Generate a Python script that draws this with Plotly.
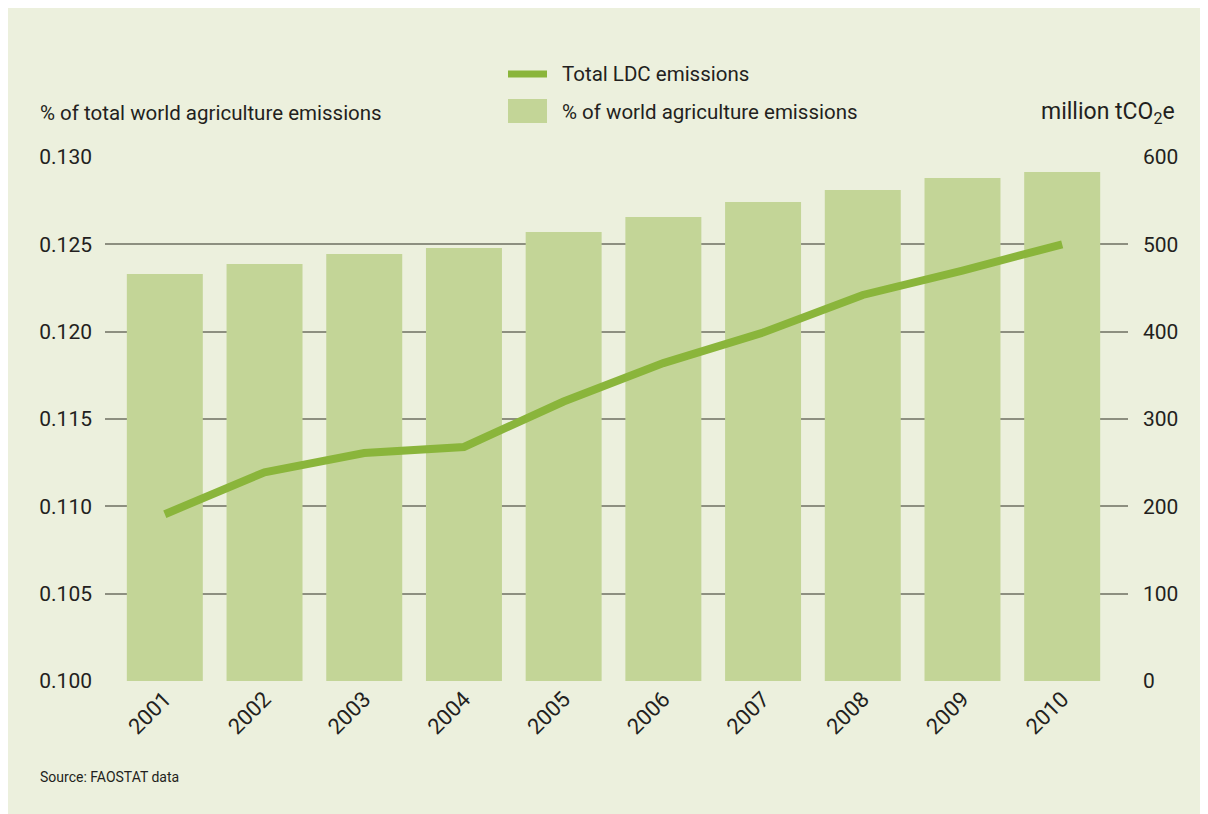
import plotly.graph_objects as go

years = ["2001", "2002", "2003", "2004", "2005", "2006", "2007", "2008", "2009", "2010"]
share_pct = [0.1233, 0.12387, 0.12445, 0.12479, 0.12570, 0.12656, 0.12742, 0.12811, 0.12880, 0.12914]
total_ldc = [191, 239, 261, 268, 320, 364, 399, 442, 470, 500]
left_ticks = [0.100, 0.105, 0.110, 0.115, 0.120, 0.125, 0.130]
left_tick_text = ["0.100", "0.105", "0.110", "0.115", "0.120", "0.125", "0.130"]
right_ticks = [0, 100, 200, 300, 400, 500, 600]

OFF = 8  # page offset of the figure inside the browser body
W, H = 1200, 806
L, T = 105 - OFF, 157 - OFF
R = W - (1128 - OFF)
B = H - (681 - OFF)
PW, PH = W - L - R, H - T - B

def px(x):
    return (x - OFF - L) / PW

def py(y):
    return (H - B - (y - OFF)) / PH

FONT = "Roboto, Liberation Sans Narrow, sans-serif"
TXT = "#231f20"
PANEL = "#ecf0dd"
BAR = "#c3d597"
LINE = "#8ab53b"
GRID = "#8d8f80"

fig = go.Figure()
fig.add_trace(go.Bar(x=years, y=share_pct, name="% of world agriculture emissions",
                     marker=dict(color=BAR, line=dict(width=0)), yaxis="y"))
fig.add_trace(go.Scatter(x=years, y=total_ldc, name="Total LDC emissions", mode="lines",
                         line=dict(color=LINE, width=8), yaxis="y2"))

fig.update_layout(
    width=W, height=H, autosize=False,
    margin=dict(l=L, r=R, t=T, b=B),
    paper_bgcolor=PANEL, plot_bgcolor="rgba(0,0,0,0)",
    showlegend=False, bargap=0.238,
    font=dict(family=FONT, color=TXT, size=21),
    xaxis=dict(type="category", range=[-0.6, 9.66], tickangle=-45, showgrid=False,
               zeroline=False, showline=False, ticks="", tickfont=dict(size=22)),
    yaxis=dict(range=[0.100, 0.130], tickvals=left_ticks, ticktext=left_tick_text,
               showgrid=True, gridcolor=GRID, gridwidth=1.5, zeroline=False,
               showline=False, ticks="", ticklabelstandoff=12, tickfont=dict(size=21)),
    yaxis2=dict(range=[0, 600], tickvals=right_ticks, overlaying="y", side="right",
                showgrid=False, zeroline=False, showline=False, ticks="",
                ticklabelstandoff=14, tickfont=dict(size=21)),
    shapes=[
        dict(type="line", xref="paper", yref="paper", x0=px(508), x1=px(547), y0=py(74), y1=py(74),
             line=dict(color=LINE, width=7)),
        dict(type="rect", xref="paper", yref="paper", x0=px(508), x1=px(547), y0=py(123), y1=py(99),
             fillcolor=BAR, line=dict(width=0)),
    ],
    annotations=[
        dict(text="% of total world agriculture emissions", xref="paper", yref="paper",
             x=px(38), y=py(113), xanchor="left", yanchor="middle", showarrow=False,
             font=dict(size=20.5)),
        dict(text="million tCO<sub>2</sub>e", xref="paper", yref="paper",
             x=px(1177), y=py(113), xanchor="right", yanchor="middle", showarrow=False,
             font=dict(size=23)),
        dict(text="Total LDC emissions", xref="paper", yref="paper",
             x=px(560), y=py(74), xanchor="left", yanchor="middle", showarrow=False,
             font=dict(size=20.5)),
        dict(text="% of world agriculture emissions", xref="paper", yref="paper",
             x=px(560), y=py(112), xanchor="left", yanchor="middle", showarrow=False,
             font=dict(size=20.5)),
        dict(text="Source: FAOSTAT data", xref="paper", yref="paper",
             x=px(38), y=py(777), xanchor="left", yanchor="middle", showarrow=False,
             font=dict(size=14)),
    ],
)

fig.write_html("out.html", post_script="document.body.style.overflow='hidden';")
